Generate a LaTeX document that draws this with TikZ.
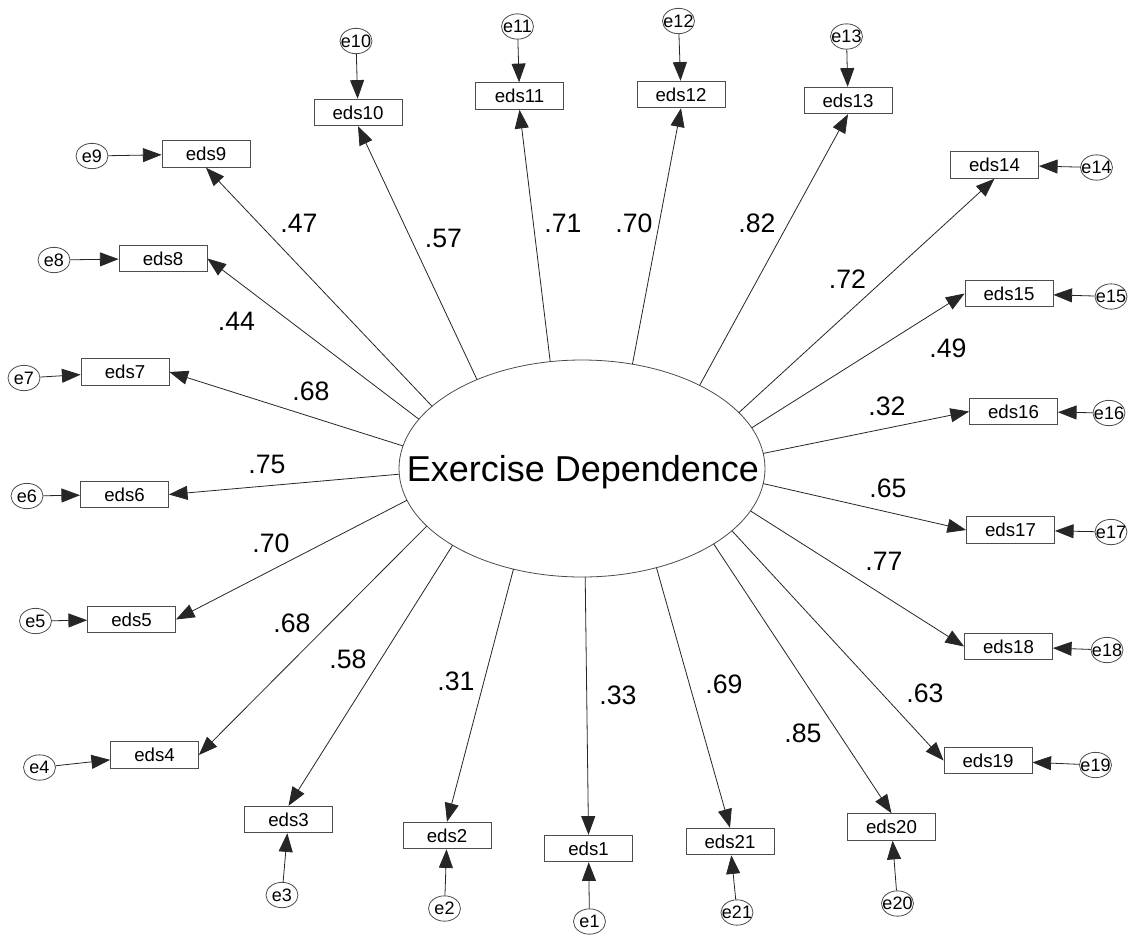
\documentclass[tikz,border=0pt]{standalone}
\usepackage{fontspec}
\setmainfont{Liberation Sans}
\usetikzlibrary{arrows.meta,shapes.geometric,calc}

\begin{document}
\begin{tikzpicture}[x=0.75pt,y=-0.75pt,
  obs/.style={draw=black!70, line width=0.6pt, rectangle, minimum width=66pt,
              minimum height=20pt, inner sep=0pt, font=\fontsize{14}{16}\selectfont},
  err/.style={draw=black!70, line width=0.6pt, ellipse, minimum width=24pt,
              minimum height=19pt, inner sep=0pt},
  errtext/.style={inner sep=0pt, font=\fontsize{13.5}{15}\selectfont},
  load/.style={draw=black!85, line width=0.6pt, -{Triangle[length=14pt,width=10.5pt]}},
  coef/.style={anchor=base, inner sep=0pt, font=\fontsize{20}{24}\selectfont},
]
\fill[white] (0,0) rectangle (1136,940);
\path[use as bounding box] (0,0) rectangle (1136,940);

% latent factor
\node[draw=black!70, line width=0.6pt, ellipse, minimum width=274.5pt,
      minimum height=162.75pt, inner sep=0pt] (E) at (582,468.5) {};
\node[anchor=base, inner sep=0pt, font=\fontsize{27}{32}\selectfont] (Etext) at (583,481) {Exercise Dependence};

% observed items
\foreach \n/\x/\y in {1/588.5/848.5, 2/447/835.5, 3/288.5/819.5, 4/154.5/755,
    5/131.5/619.5, 6/124.5/494.5, 7/125/372, 8/163/258.5, 9/206/154,
    10/358/112.5, 11/519.5/96, 12/681/94.5, 13/848/100.5, 14/994.5/165,
    15/1009/293.5, 16/1013.5/411.5, 17/1010.5/530, 18/1008.5/646.5,
    19/988/760.5, 20/891.5/827, 21/730/841.5}
  \node[obs] (eds\n) at (\x,\y) {eds\n};

% error terms
\foreach \n/\x/\y in {1/589.5/921.5, 2/444.5/908.5, 3/282/895, 4/39.5/767.5,
    5/35.5/621, 6/27/496, 7/24/378, 8/54/260, 9/92/156, 10/356/41,
    11/517.5/26.5, 12/678.5/21, 13/846.5/36.5, 14/1096.5/167.5,
    15/1111/296.5, 16/1109/413, 17/1111/532, 18/1107/650, 19/1095.5/765,
    20/897.5/903.5, 21/737/912.5}
  \node[err, label={[errtext]center:e\n}] (e\n) at (\x,\y) {};

% factor loadings: start on the ellipse, end on a side of each item box
\foreach \n/\t/\a in {1/89/north, 2/112/north, 3/135/north, 4/148/east,
    5/163/east, 6/177/east, 7/192/east, 8/207/east, 9/215/south,
    10/235/south, 11/260/south, 12/286/south, 13/310/south, 14/329/south,
    15/338/west, 16/352/west, 17/8/west, 18/23/west, 19/35/west,
    20/44/north, 21/66/north}
{
  \coordinate (s\n) at ($(E.center)+(\t:183 and 108.5)$);
  \draw[load] (s\n) -- (eds\n.\a);
}

% error paths
\foreach \n in {1,...,21}
  \draw[load] (e\n) -- (eds\n);

% standardized loadings
\node[coef] (c1) at (618,704) {.33};
\node[coef] (c2) at (456,690) {.31};
\node[coef] (c3) at (348,668) {.58};
\node[coef] (c4) at (292,632) {.68};
\node[coef] (c5) at (271,552) {.70};
\node[coef] (c6) at (267,473) {.75};
\node[coef] (c7) at (311,400) {.68};
\node[coef] (c8) at (236.5,330) {.44};
\node[coef] (c9) at (299,232) {.47};
\node[coef] (c10) at (443.5,247) {.57};
\node[coef] (c11) at (563,232) {.71};
\node[coef] (c12) at (634,232) {.70};
\node[coef] (c13) at (757,232) {.82};
\node[coef] (c14) at (847.5,288) {.72};
\node[coef] (c15) at (948,357) {.49};
\node[coef] (c16) at (887,415) {.32};
\node[coef] (c17) at (888,497) {.65};
\node[coef] (c18) at (884,570) {.77};
\node[coef] (c19) at (925,702) {.63};
\node[coef] (c20) at (803,742) {.85};
\node[coef] (c21) at (724,693) {.69};
\end{tikzpicture}
\end{document}
